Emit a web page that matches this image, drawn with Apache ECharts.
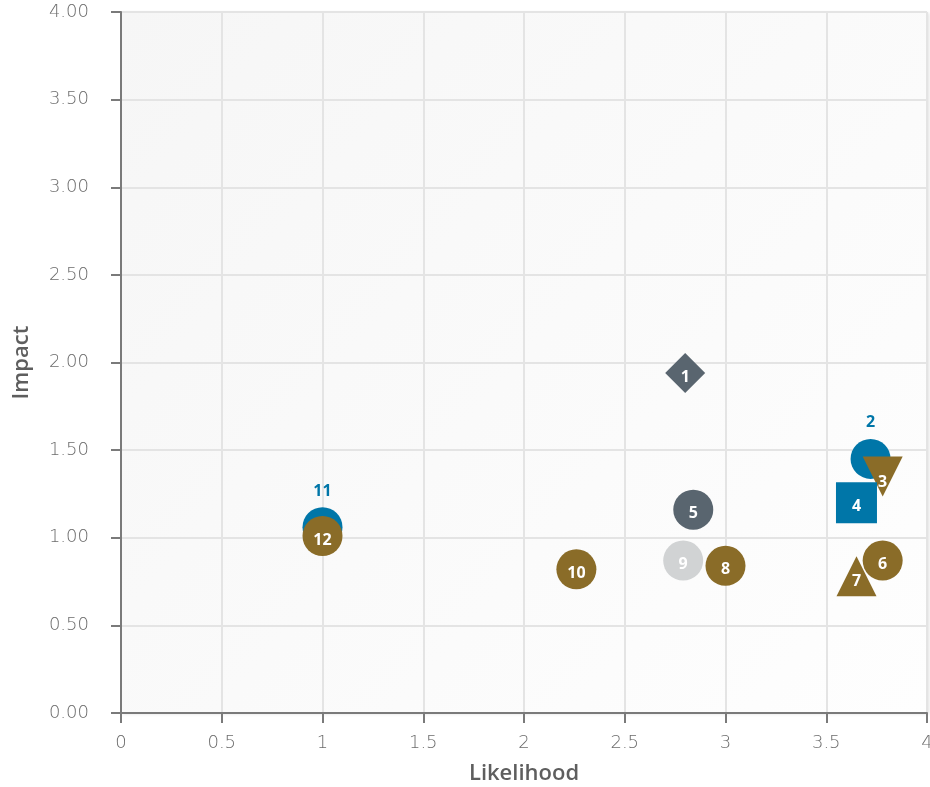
<!DOCTYPE html>
<html>
<head>
<meta charset="utf-8">
<script src="https://cdn.jsdelivr.net/npm/echarts@6/dist/echarts.min.js"></script>
<style>
html,body{margin:0;padding:0;background:#fff;}
#c{width:930px;height:787px;}
</style>
</head>
<body>
<div id="c"></div>
<script>
var ids = ['1','2','3','4','5','6','7','8','9','10','11','12'];
var likelihood = [2.80, 3.72, 3.78, 3.65, 2.84, 3.78, 3.65, 3.00, 2.79, 2.26, 1.00, 1.00];
var impact     = [1.94, 1.45, 1.35, 1.20, 1.16, 0.87, 0.78, 0.84, 0.87, 0.82, 1.06, 1.01];
var shapes     = ['diamond','circle','invtriangle','rect','circle','circle','triangle','circle','circle','circle','circle','circle'];
var colorKeys  = ['slate','blue','brown','blue','slate','brown','brown','brown','grey','brown','blue','brown'];
var labelTop   = ['2','11'];
var xTicks = [0, 0.5, 1, 1.5, 2, 2.5, 3, 3.5, 4];
var yTicks = [0, 0.5, 1, 1.5, 2, 2.5, 3, 3.5, 4];

var palette = {slate:'#59656f', blue:'#0076a8', brown:'#8a6c28', grey:'#d1d3d4'};
var TICKFONT = '"DejaVu Sans", sans-serif';
var TITLEFONT = '"Open Sans", "Noto Sans", sans-serif';

var data = ids.map(function(id, i){
  var sh = shapes[i];
  var sym = sh === 'invtriangle' ? 'triangle' : (sh === 'rect' ? 'rect' : sh);
  var size = sh === 'rect' ? 41 : 40;
  var top = labelTop.indexOf(id) >= 0;
  return {
    name: id,
    value: [likelihood[i], impact[i]],
    symbol: sym,
    symbolSize: size,
    symbolRotate: sh === 'invtriangle' ? 180 : 0,
    itemStyle: {color: palette[colorKeys[i]], opacity: 1},
    label: top ? {position: 'top', distance: 8, color: palette[colorKeys[i]]} :
                 {position: 'inside', color: '#ffffff', offset: [0, sh === 'triangle' ? 5 : (sh==='invtriangle'? 6 : 4)]}
  };
});

var chart = echarts.init(document.getElementById('c'));
chart.setOption({
  animation: false,
  grid: {
    left: 121, right: 3, top: 12, bottom: 74,
    containLabel: false,
    outerBoundsMode: 'none',
    show: true,
    borderWidth: 0,
    backgroundColor: new echarts.graphic.LinearGradient(0, 0, 1, 1, [
      {offset: 0, color: '#f6f6f6'}, {offset: 1, color: '#fefefe'}
    ]),
    shadowColor: 'rgba(0,0,0,0.12)', shadowBlur: 3, shadowOffsetX: 2, shadowOffsetY: 1
  },
  xAxis: {
    type: 'value', min: 0, max: 4, interval: 0.5,
    name: 'Likelihood', nameLocation: 'middle', nameGap: 50,
    nameTextStyle: {fontFamily: TITLEFONT, fontSize: 22, fontWeight: 600, color: '#5e5e5e'},
    axisLine: {show: true, onZero: false, lineStyle: {color: '#7a7a7a', width: 2}},
    axisTick: {show: true, length: 10, lineStyle: {color: '#7a7a7a', width: 2}},
    axisLabel: {fontFamily: TICKFONT, fontSize: 18, fontWeight: 200, color: '#6c6c6c', margin: 21,
      formatter: function(v){ return String(v); }},
    splitLine: {show: true, lineStyle: {color: '#e4e4e4', width: 2}}
  },
  yAxis: {
    type: 'value', min: 0, max: 4, interval: 0.5,
    name: 'Impact', nameLocation: 'middle', nameGap: 88,
    nameTextStyle: {fontFamily: TITLEFONT, fontSize: 22, fontWeight: 600, color: '#5e5e5e'},
    axisLine: {show: true, onZero: false, lineStyle: {color: '#7a7a7a', width: 2}},
    axisTick: {show: true, length: 10, lineStyle: {color: '#7a7a7a', width: 2}},
    axisLabel: {fontFamily: TICKFONT, fontSize: 18, fontWeight: 200, color: '#6c6c6c', margin: 32,
      formatter: function(v){ return v.toFixed(2); }},
    splitLine: {show: true, lineStyle: {color: '#e4e4e4', width: 2}}
  },
  series: [{
    type: 'scatter',
    data: data,
    label: {show: true, formatter: '{b}', fontFamily: TITLEFONT, fontSize: 16, fontWeight: 'bold'},
    emphasis: {disabled: true}
  }]
});
</script>
</body>
</html>
